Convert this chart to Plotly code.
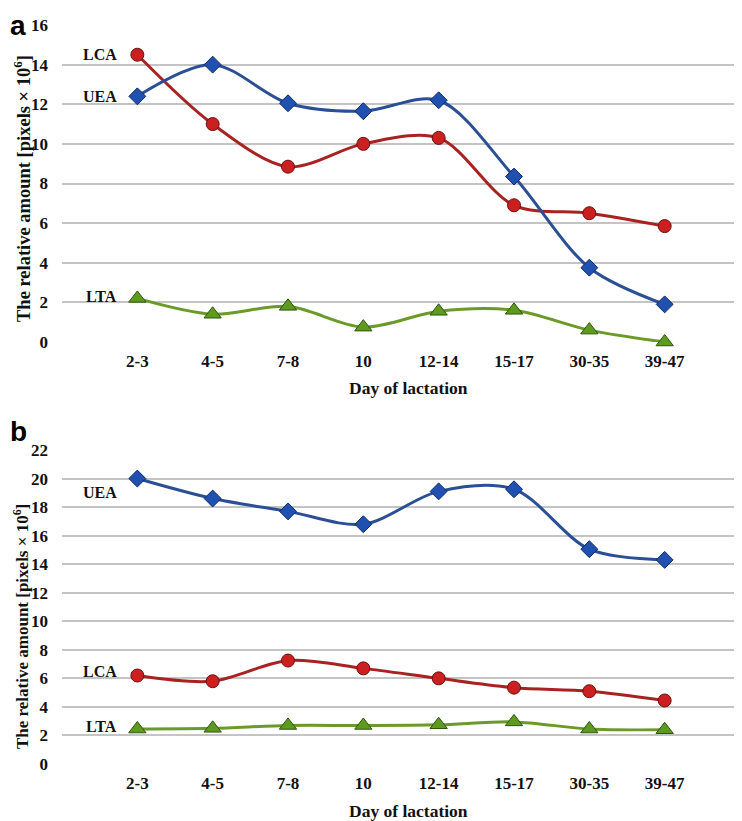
import plotly.graph_objects as go

categories = ["2-3", "4-5", "7-8", "10", "12-14", "15-17", "30-35", "39-47"]

# Panel a
a_uea = [12.4, 14.0, 12.05, 11.65, 12.2, 8.35, 3.75, 1.9]
a_lca = [14.5, 11.0, 8.85, 10.0, 10.3, 6.9, 6.5, 5.85]
a_lta = [2.2, 1.4, 1.8, 0.75, 1.55, 1.6, 0.6, 0.0]

# Panel b
b_uea = [20.0, 18.6, 17.7, 16.8, 19.1, 19.25, 15.05, 14.3]
b_lca = [6.2, 5.8, 7.25, 6.7, 6.0, 5.35, 5.1, 4.45]
b_lta = [2.45, 2.5, 2.7, 2.7, 2.75, 2.95, 2.45, 2.4]

a_ticks = [0, 2, 4, 6, 8, 10, 12, 14, 16]
b_ticks = [0, 2, 4, 6, 8, 10, 12, 14, 16, 18, 20, 22]

xs = list(range(len(categories)))

# page body adds an 8px offset; compensate so window pixels match the reference
OFF = 8
W, H = 742 - OFF, 821 - OFF

def px(x):
    return (x - OFF) / W

def py(y):
    return 1 - (y - OFF) / H

fig = go.Figure()

styles = {
    "UEA": dict(line="#2b4f95", fill="#2050b0", edge="#0f2a66", symbol="diamond", size=13),
    "LCA": dict(line="#a82222", fill="#cc2020", edge="#6a1010", symbol="circle", size=13),
    "LTA": dict(line="#6b9a2a", fill="#5e9a1e", edge="#2f5510", symbol="triangle-up", size=15),
}

def add(series, name, xa, ya):
    s = styles[name]
    fig.add_trace(go.Scatter(
        x=xs, y=series, mode="lines+markers", name=name,
        line=dict(color=s["line"], width=3, shape="spline", smoothing=0.9),
        marker=dict(symbol=s["symbol"], size=s["size"], color=s["fill"],
                    line=dict(color=s["edge"], width=1)),
        xaxis=xa, yaxis=ya, cliponaxis=False, showlegend=False))

add(a_lta, "LTA", "x", "y")
add(a_lca, "LCA", "x", "y")
add(a_uea, "UEA", "x", "y")
add(b_lta, "LTA", "x2", "y2")
add(b_lca, "LCA", "x2", "y2")
add(b_uea, "UEA", "x2", "y2")

tickfont = dict(family="Liberation Serif", size=17, color="#111", weight="bold")

xdom = [px(62), min(1, px(740))]
ya_dom = [py(342), py(25)]
yb_dom = [py(764), py(450)]

common_x = dict(
    tickmode="array", tickvals=xs, ticktext=categories, range=[-1, 8],
    showgrid=False, zeroline=False, showline=False, ticks="",
    tickfont=tickfont, domain=xdom, automargin=False, ticklabelstandoff=7,
)
common_y = dict(
    showgrid=True, gridcolor="#c4c4c4", gridwidth=1.5, zeroline=False,
    showline=False, ticks="", tickfont=tickfont, tickmode="array",
    automargin=False, ticklabelstandoff=13,
)

fig.update_layout(
    width=W, height=H, margin=dict(l=0, r=0, t=0, b=0),
    plot_bgcolor="white", paper_bgcolor="white",
    xaxis=dict(common_x, anchor="y"),
    yaxis=dict(common_y, range=[0, 16], tickvals=a_ticks, domain=ya_dom, anchor="x"),
    xaxis2=dict(common_x, anchor="y2"),
    yaxis2=dict(common_y, range=[0, 22], tickvals=b_ticks, domain=yb_dom, anchor="x2"),
)

# axis titles as annotations for exact placement
ytitle = "<b>The relative amount [pixels × 10<sup>6</sup>]</b>"
fig.add_annotation(text=ytitle, x=0, y=py(189), xref="paper", yref="paper",
                   textangle=-90, xanchor="left", yanchor="middle", showarrow=False,
                   font=dict(family="Liberation Serif", size=18.5, color="#111"))
fig.add_annotation(text=ytitle, x=0, y=py(627), xref="paper", yref="paper",
                   textangle=-90, xanchor="left", yanchor="middle", showarrow=False,
                   font=dict(family="Liberation Serif", size=17, color="#111"))
xtitle = "<b>Day of lactation</b>"
for yy in (388, 811):
    fig.add_annotation(text=xtitle, x=px(408), y=py(yy), xref="paper", yref="paper",
                       xanchor="center", yanchor="middle", showarrow=False,
                       font=dict(family="Liberation Serif", size=17.5, color="#111"))

lab = dict(family="Liberation Serif", size=16, color="#111")
anns = [
    ("LCA", "x", "y", 14.5), ("UEA", "x", "y", 12.4), ("LTA", "x", "y", 2.3),
    ("UEA", "x2", "y2", 19.0), ("LCA", "x2", "y2", 6.45), ("LTA", "x2", "y2", 2.65),
]
for t, xr, yr, yv in anns:
    fig.add_annotation(text=f"<b>{t}</b>", x=-0.25, y=yv, xref=xr, yref=yr,
                       xanchor="right", yanchor="middle", showarrow=False, font=lab)

fig.add_annotation(text="<b>a</b>", x=0, y=1, xref="paper", yref="paper",
                   xanchor="left", yanchor="top", showarrow=False,
                   font=dict(family="Liberation Sans", size=28, color="#000"))
fig.add_annotation(text="<b>b</b>", x=0, y=py(414), xref="paper", yref="paper",
                   xanchor="left", yanchor="top", showarrow=False,
                   font=dict(family="Liberation Sans", size=28, color="#000"))

fig.write_html("out.html")
